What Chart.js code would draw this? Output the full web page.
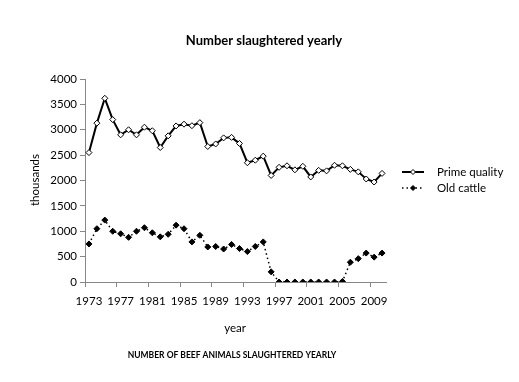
<!DOCTYPE html>
<html>
<head>
<meta charset="utf-8">
<script src="https://cdn.jsdelivr.net/npm/chart.js@4"></script>
<style>
html,body{margin:0;padding:0;background:#fff;}
#wrap{width:519px;height:382px;position:relative;}
</style>
</head>
<body>
<div id="wrap"><canvas id="c" width="519" height="382"></canvas></div>
<script>
const years = [];
for (let y = 1973; y <= 2010; y++) years.push(String(y));
const primeQuality = [2550,3130,3620,3200,2900,3000,2900,3050,2980,2650,2880,3075,3110,3080,3140,2670,2720,2840,2850,2730,2350,2400,2480,2100,2260,2290,2210,2280,2070,2200,2190,2300,2290,2220,2170,2030,1970,2140];
const oldCattle = [750,1050,1220,1000,950,880,1000,1070,970,890,940,1120,1050,790,920,690,700,650,740,660,600,700,790,200,0,0,0,0,0,0,0,0,10,390,460,570,490,570];
const seriesNames = ["Prime quality","Old cattle"];
const chartTitle = "Number slaughtered yearly";
const yTitle = "thousands";
const xTitle = "year";
const caption = "NUMBER OF BEEF ANIMALS SLAUGHTERED YEARLY";

const FONT = "Lato, 'Open Sans', 'Liberation Sans', sans-serif";
const AXIS = "#868686";

const textPlugin = {
  id: 'texts',
  afterDraw(chart) {
    const ctx = chart.ctx;
    ctx.save();
    ctx.fillStyle = '#000';
    ctx.textAlign = 'center';
    ctx.textBaseline = 'middle';
    ctx.font = "bold 13px " + FONT;
    ctx.fillText(chartTitle, 264, 41);
    ctx.font = "11.5px " + FONT;
    ctx.fillText(xTitle, 235, 328);
    ctx.font = "bold 8.5px " + FONT;
    ctx.fillText(caption, 232, 355);
    ctx.save();
    ctx.translate(35, 180);
    ctx.rotate(-Math.PI/2);
    ctx.font = "11.5px " + FONT;
    ctx.fillText(yTitle, 0, 0);
    ctx.restore();
    // legend
    const rows = [172, 188];
    chart.data.datasets.forEach((ds, i) => {
      const y = rows[i];
      ctx.save();
      ctx.strokeStyle = ds.borderColor;
      ctx.lineWidth = ds.borderWidth;
      ctx.setLineDash(ds.borderDash || []);
      ctx.beginPath();
      ctx.moveTo(402, y); ctx.lineTo(424, y);
      ctx.stroke();
      ctx.setLineDash([]);
      ctx.fillStyle = ds.pointBackgroundColor;
      ctx.strokeStyle = ds.pointBorderColor;
      ctx.lineWidth = 1;
      const r = 2.5;
      ctx.beginPath();
      ctx.moveTo(413, y - r); ctx.lineTo(413 + r, y); ctx.lineTo(413, y + r); ctx.lineTo(413 - r, y); ctx.closePath();
      ctx.fill(); ctx.stroke();
      ctx.restore();
      ctx.fillStyle = '#000';
      ctx.textAlign = 'left';
      ctx.font = "11.5px " + FONT;
      ctx.fillText(ds.label, 437, y);
    });
    ctx.restore();
  }
};

new Chart(document.getElementById('c'), {
  type: 'line',
  data: {
    labels: years,
    datasets: [
      {
        label: seriesNames[0],
        data: primeQuality,
        borderColor: '#000',
        borderWidth: 2,
        pointStyle: 'rectRot',
        pointRadius: 3,
        pointBackgroundColor: '#fff',
        pointBorderColor: '#000',
        pointBorderWidth: 1,
        tension: 0,
        fill: false
      },
      {
        label: seriesNames[1],
        data: oldCattle,
        borderColor: '#000',
        borderWidth: 1.5,
        borderDash: [1.5, 3],
        pointStyle: 'rectRot',
        pointRadius: 3,
        pointBackgroundColor: '#000',
        pointBorderColor: '#000',
        pointBorderWidth: 1,
        tension: 0,
        fill: false
      }
    ]
  },
  options: {
    responsive: false,
    animation: false,
    devicePixelRatio: 1,
    layout: { padding: { left: 0, top: 79, right: 133, bottom: 0 } },
    plugins: { legend: { display: false }, title: { display: false }, tooltip: { enabled: false } },
    scales: {
      x: {
        offset: true,
        grid: {
          offset: true,
          drawOnChartArea: false,
          drawTicks: true,
          tickLength: 5,
          color: (c) => (c.index !== undefined && c.index % 4 === 0) ? AXIS : 'rgba(0,0,0,0)'
        },
        border: { color: AXIS, width: 1 },
        ticks: {
          autoSkip: false,
          maxRotation: 0,
          minRotation: 0,
          padding: 7,
          color: '#000',
          font: { family: FONT, size: 11.5 },
          callback: function(v, i) { return i % 4 === 0 ? this.getLabelForValue(v) : ''; }
        },
        afterFit: (s) => { s.height = 100; }
      },
      y: {
        min: 0,
        max: 4000,
        grid: { drawOnChartArea: false, drawTicks: true, tickLength: 5, color: AXIS },
        border: { color: AXIS, width: 1 },
        ticks: {
          stepSize: 500,
          padding: 3,
          color: '#000',
          font: { family: FONT, size: 11.5 },
          callback: (v) => String(v)
        },
        afterFit: (s) => { s.width = 85; }
      }
    }
  },
  plugins: [textPlugin]
});
</script>
</body>
</html>
